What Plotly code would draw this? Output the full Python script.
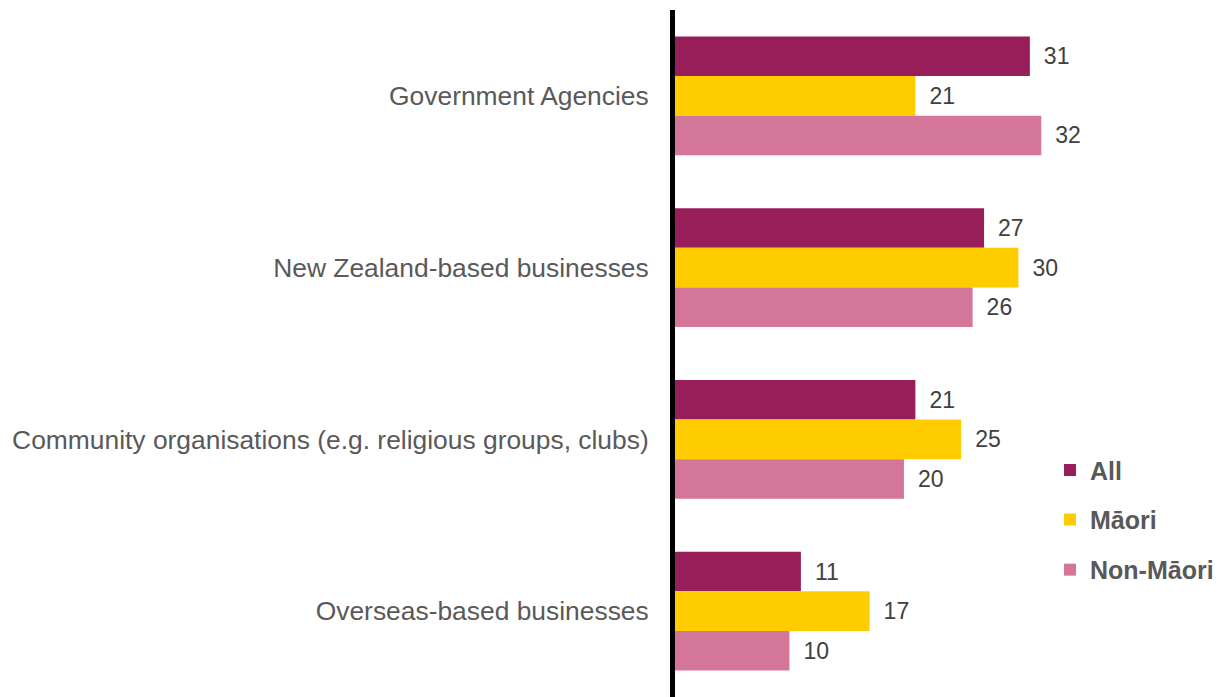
import plotly.graph_objects as go

# Survey categories (top to bottom) and percentage values per group
categories = [
    "Government Agencies",
    "New Zealand-based businesses",
    "Community organisations (e.g. religious groups, clubs)",
    "Overseas-based businesses",
]
series_names = ["All", "Māori", "Non-Māori"]
all_values = [31, 27, 21, 11]
maori_values = [21, 30, 25, 17]
non_maori_values = [32, 26, 20, 10]

colors = ["#981E59", "#FFCC00", "#D4769A"]
legend_ids = ["legend", "legend2", "legend3"]
FONT = "Liberation Sans, Arial, sans-serif"

fig = go.Figure()
for name, vals, col, lg in zip(series_names,
                               [all_values, maori_values, non_maori_values],
                               colors, legend_ids):
    fig.add_trace(go.Bar(
        name=name,
        y=categories,
        x=vals,
        orientation="h",
        marker=dict(color=col, line=dict(width=0)),
        text=vals,
        texttemplate="\u00a0\u2009%{x}",
        textposition="outside",
        cliponaxis=False,
        textfont=dict(family=FONT, size=23, color="#404040"),
        legend=lg,
    ))

# One legend box per series so the entries can be spaced freely
legend_common = dict(
    xanchor="left", yanchor="middle",
    bgcolor="rgba(0,0,0,0)", borderwidth=0,
    font=dict(family=FONT, size=25, color="#595959", weight="bold"),
    itemclick=False, itemdoubleclick=False,
)
legend_y = [0.330, 0.258, 0.185]
layout_legends = {}
for lg, yy in zip(legend_ids, legend_y):
    layout_legends[lg] = dict(x=0.697, y=yy, **legend_common)

fig.update_layout(
    width=1219, height=697,
    margin=dict(l=675, r=4, t=10, b=0),
    paper_bgcolor="white", plot_bgcolor="white",
    barmode="group",
    bargap=0.31, bargroupgap=0,
    showlegend=True,
    **layout_legends,
)
fig.update_xaxes(
    range=[0, 47], visible=False, showgrid=False, zeroline=False,
)
fig.update_yaxes(
    autorange="reversed",
    showline=True, linecolor="black", linewidth=5,
    showgrid=False, zeroline=False,
    ticks="", ticklabelstandoff=16,
    tickfont=dict(family=FONT, size=26.4, color="#595959"),
)

fig.write_html("out.html")
